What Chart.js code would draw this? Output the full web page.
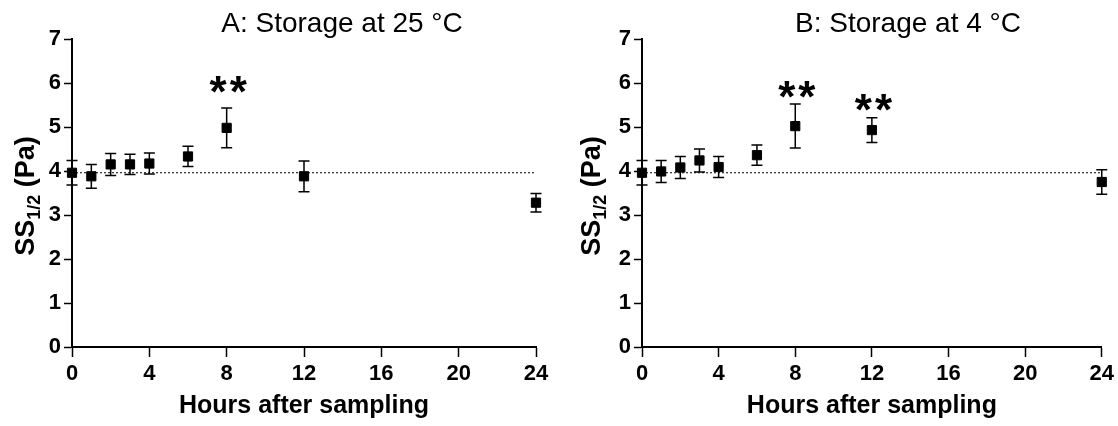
<!DOCTYPE html>
<html>
<head>
<meta charset="utf-8">
<title>SS1/2 storage</title>
<script src="https://cdn.jsdelivr.net/npm/chart.js@4"></script>
<style>
  body { margin: 0; background: #fff; }
  .panel { position: absolute; top: 0; width: 559px; height: 426px; }
  #panelA { left: 0; }
  #panelB { left: 559px; }
</style>
</head>
<body>
<div class="panel" id="panelA"><canvas id="chartA"></canvas></div>
<div class="panel" id="panelB"><canvas id="chartB"></canvas></div>
<script>
const hours = [0, 1, 2, 3, 4, 6, 8, 12, 24];
const yTicks = [0, 1, 2, 3, 4, 5, 6, 7];
const xTicks = [0, 4, 8, 12, 16, 20, 24];

// A: storage at 25 °C
const meanA = [3.96, 3.88, 4.15, 4.15, 4.17, 4.33, 4.98, 3.88, 3.28];
const errA  = [0.28, 0.27, 0.25, 0.23, 0.24, 0.23, 0.45, 0.35, 0.21];
const starHoursA = [8];
const starLevelA = [5.95];

// B: storage at 4 °C
const meanB = [3.96, 3.99, 4.08, 4.24, 4.09, 4.36, 5.02, 4.93, 3.75];
const errB  = [0.28, 0.25, 0.25, 0.26, 0.24, 0.23, 0.50, 0.28, 0.28];
const starHoursB = [8, 12];
const starLevelB = [5.85, 5.55];

const FONT = '"Liberation Sans", Arial, Helvetica, sans-serif';

// error bars, panel title, y-axis title with subscript, significance stars
function makeExtras(p) {
  return {
    id: 'extras',
    beforeDatasetsDraw(chart) {
      const { ctx, scales: { x, y } } = chart;
      ctx.save();
      ctx.strokeStyle = '#000';
      ctx.lineWidth = 1.5;
      p.mean.forEach((m, i) => {
        const px = x.getPixelForValue(hours[i]);
        const top = y.getPixelForValue(m + p.err[i]);
        const bot = y.getPixelForValue(m - p.err[i]);
        ctx.beginPath();
        ctx.moveTo(px, top); ctx.lineTo(px, bot);
        ctx.moveTo(px - 5.5, top); ctx.lineTo(px + 5.5, top);
        ctx.moveTo(px - 5.5, bot); ctx.lineTo(px + 5.5, bot);
        ctx.stroke();
      });
      ctx.restore();
    },
    afterDraw(chart) {
      const { ctx, scales: { x, y } } = chart;
      ctx.save();
      ctx.fillStyle = '#000';

      ctx.font = '28px ' + FONT;
      ctx.textAlign = 'center';
      ctx.textBaseline = 'alphabetic';
      ctx.fillText(p.title, p.titleX, 32);

      ctx.font = 'bold 44px ' + FONT;
      ctx.textBaseline = 'middle';
      ctx.letterSpacing = '3px';
      p.starHours.forEach((h, i) => {
        ctx.fillText('**', x.getPixelForValue(h) + 3, y.getPixelForValue(p.starLevel[i]) + 10);
      });
      ctx.letterSpacing = '0px';

      // rotated "SS1/2 (Pa)"
      ctx.translate(p.yTitleX, (chart.chartArea.top + chart.chartArea.bottom) / 2 + 3);
      ctx.rotate(-Math.PI / 2);
      ctx.textAlign = 'left';
      ctx.textBaseline = 'alphabetic';
      const big = 'bold 27px ' + FONT;
      const small = 'bold 18px ' + FONT;
      ctx.font = big;
      const w1 = ctx.measureText('SS').width;
      const w3 = ctx.measureText(' (Pa)').width;
      ctx.font = small;
      const w2 = ctx.measureText('1/2').width;
      let cx = -(w1 + w2 + w3) / 2;
      const base = 10;
      ctx.font = big; ctx.fillText('SS', cx, base); cx += w1;
      ctx.font = small; ctx.fillText('1/2', cx, base + 6); cx += w2;
      ctx.font = big; ctx.fillText(' (Pa)', cx, base);
      ctx.restore();
    }
  };
}

function buildChart(id, p) {
  const ref = p.mean[0];
  return new Chart(document.getElementById(id), {
    type: 'scatter',
    data: {
      datasets: [
        {
          data: hours.map((h, i) => ({ x: h, y: p.mean[i] })),
          pointStyle: 'rect',
          pointRadius: 6.5,
          pointHoverRadius: 6.5,
          backgroundColor: '#000',
          borderColor: '#000',
          borderWidth: 1,
          clip: false
        },
        {
          type: 'line',
          data: [{ x: 0, y: ref }, { x: 24, y: ref }],
          borderColor: '#000',
          borderWidth: 1.2,
          borderDash: [2, 2],
          pointRadius: 0,
          fill: false,
          clip: false
        }
      ]
    },
    options: {
      responsive: true,
      maintainAspectRatio: false,
      animation: false,
      events: [],
      layout: { padding: { left: 0, right: p.padRight, top: 39, bottom: 0 } },
      plugins: { legend: { display: false }, tooltip: { enabled: false } },
      scales: {
        x: {
          type: 'linear',
          min: 0,
          max: 24,
          afterBuildTicks: (s) => { s.ticks = xTicks.map(v => ({ value: v })); },
          afterFit: (s) => { s.height = 79; },
          border: { color: '#000', width: 2 },
          grid: { drawOnChartArea: false, color: '#000', tickLength: 10, tickWidth: 1.5 },
          ticks: { color: '#000', padding: 4, font: { family: FONT, size: 22, weight: 'bold' } },
          title: {
            display: true,
            text: 'Hours after sampling',
            color: '#000',
            padding: { top: 0, bottom: 5 },
            font: { family: FONT, size: 25, weight: 'bold' }
          }
        },
        y: {
          min: 0,
          max: 7,
          afterBuildTicks: (s) => { s.ticks = yTicks.map(v => ({ value: v })); },
          afterFit: (s) => { s.width = p.axisWidth; },
          border: { color: '#000', width: 2 },
          grid: { drawOnChartArea: false, color: '#000', tickLength: 8, tickWidth: 1.5 },
          ticks: { color: '#000', padding: 3, font: { family: FONT, size: 22, weight: 'bold' } }
        }
      }
    },
    plugins: [makeExtras(p)]
  });
}

buildChart('chartA', {
  title: 'A: Storage at 25 \u00B0C', titleX: 342, yTitleX: 24,
  mean: meanA, err: errA, starHours: starHoursA, starLevel: starLevelA,
  axisWidth: 72, padRight: 23
});

buildChart('chartB', {
  title: 'B: Storage at 4 \u00B0C', titleX: 349, yTitleX: 31,
  mean: meanB, err: errB, starHours: starHoursB, starLevel: starLevelB,
  axisWidth: 83, padRight: 14
});
</script>
</body>
</html>
